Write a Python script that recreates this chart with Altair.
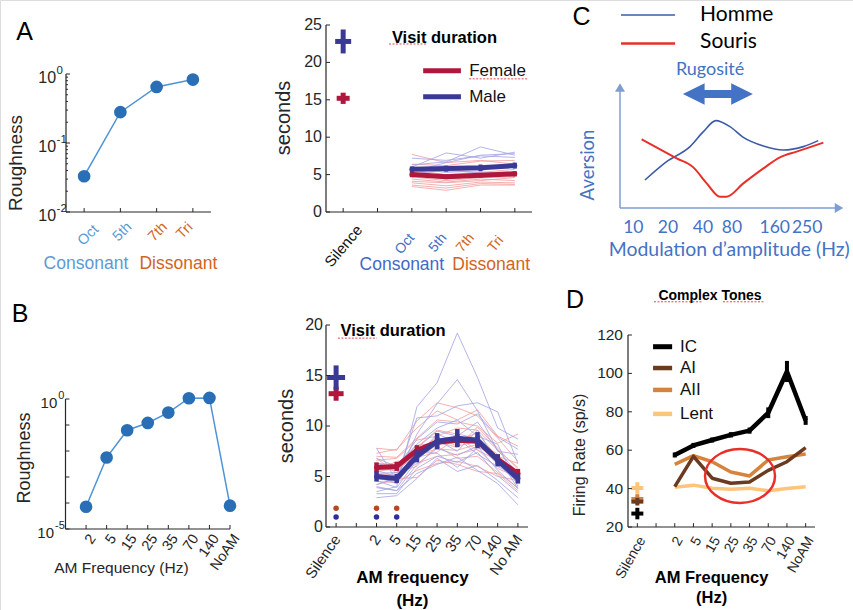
import altair as alt
import pandas as pd

W, H = 853, 610
FONT = "Liberation Sans"
CFONT = "Lato"
AXC = "#262626"

# ---------------- data ----------------
# A (left): roughness of the intervals
a1_intervals = ["Oct", "5th", "7th", "Tri"]
a1_roughness = [0.033, 0.28, 0.65, 0.83]

# A (right): visit duration (s); x slots: Silence=1, Oct=3, 5th=4, 7th=5, Tri=6
a2_silence_female = [15.2, 0.75]
a2_silence_male = [22.8, 1.6]
a2_female_mean = [5.0, 4.7, 4.9, 5.1]
a2_female_err = [0.35, 0.3, 0.3, 0.35]
a2_male_mean = [5.7, 5.8, 5.9, 6.2]
a2_male_err = [0.4, 0.4, 0.45, 0.4]
a2_female_individual = [
    [7.7, 6.6, 6.9, 6.4], [6.4, 6.2, 6.8, 6.9], [6.0, 5.4, 5.8, 6.1],
    [5.6, 5.0, 5.3, 5.7], [5.3, 4.8, 5.2, 5.0], [5.0, 4.4, 4.8, 5.3],
    [4.7, 4.2, 4.6, 4.7], [4.4, 4.0, 4.4, 4.2], [4.1, 3.9, 4.2, 4.6],
    [3.9, 3.5, 4.0, 3.9], [3.6, 3.2, 3.8, 3.7], [3.4, 2.9, 3.6, 3.6],
]
a2_male_individual = [
    [7.2, 6.9, 7.5, 7.3], [6.0, 7.9, 7.2, 8.0], [5.4, 6.6, 7.6, 7.8],
    [6.3, 6.7, 8.7, 7.6], [5.8, 5.3, 5.5, 6.6], [5.1, 5.6, 5.2, 5.4],
    [4.7, 5.0, 4.8, 5.0], [5.9, 5.5, 6.1, 6.3],
]
a2_yticks = [0, 5, 10, 15, 20, 25]

# B (left): roughness per AM frequency
b_freqs = ["2", "5", "15", "25", "35", "70", "140", "NoAM"]
b1_roughness = [7.2e-5, 5.6e-3, 0.063, 0.12, 0.30, 1.07, 1.1, 7.9e-5]

# B (right): visit duration (s); x slots: Silence=1, 2..NoAM = 3..10
b2_ticklabels = ["Silence", "2", "5", "15", "25", "35", "70", "140", "No AM"]
b2_tickslots = [1, 3, 4, 5, 6, 7, 8, 9, 10]
b2_silence_female = [13.2, 0.7]
b2_silence_male = [14.8, 1.2]
b2_female_mean = [5.9, 6.0, 7.6, 8.4, 8.6, 8.5, 6.7, 5.3]
b2_female_err = [0.5, 0.45, 0.5, 0.55, 0.6, 0.55, 0.5, 0.45]
b2_male_mean = [5.0, 4.8, 7.0, 8.5, 8.8, 8.6, 6.6, 4.8]
b2_male_err = [0.5, 0.45, 0.6, 0.8, 0.9, 0.8, 0.6, 0.5]
b2_female_individual = [
    [7.8, 7.6, 10.5, 12.3, 11.8, 11.0, 8.8, 6.5],
    [7.3, 7.7, 9.8, 11.5, 10.6, 11.6, 9.0, 8.0],
    [7.0, 6.9, 8.8, 10.6, 10.4, 10.0, 8.3, 9.2],
    [6.6, 6.8, 8.6, 9.0, 9.8, 9.6, 7.6, 5.9],
    [6.3, 6.2, 8.1, 8.3, 8.6, 9.3, 6.9, 5.4],
    [6.0, 5.9, 7.4, 8.9, 8.0, 8.5, 7.2, 4.8],
    [5.8, 5.6, 7.2, 7.7, 7.6, 8.2, 6.2, 5.2],
    [5.5, 5.8, 6.9, 7.4, 8.9, 7.6, 6.6, 4.3],
    [5.2, 5.1, 6.3, 7.0, 7.2, 7.7, 5.8, 4.9],
    [4.9, 5.4, 6.0, 8.0, 6.8, 7.0, 5.4, 3.9],
    [4.5, 4.4, 5.6, 6.3, 6.5, 6.0, 5.0, 4.6],
    [4.2, 4.8, 4.9, 6.6, 6.2, 5.5, 5.3, 3.6],
    [6.8, 5.3, 7.9, 9.6, 9.2, 8.8, 7.0, 6.3],
    [5.6, 6.5, 6.6, 8.4, 7.9, 9.9, 7.8, 5.7],
]
b2_male_individual = [
    [3.5, 4.0, 11.9, 14.3, 19.2, 14.8, 9.8, 8.7],
    [4.2, 4.8, 9.2, 12.2, 14.6, 11.5, 7.5, 7.2],
    [5.6, 5.0, 10.8, 11.0, 12.0, 12.3, 11.4, 6.3],
    [6.3, 5.8, 8.7, 10.4, 10.2, 11.2, 8.9, 7.7],
    [7.8, 4.6, 7.8, 9.5, 9.0, 10.4, 7.6, 5.3],
    [5.0, 4.3, 7.0, 9.2, 8.4, 8.8, 6.8, 4.9],
    [4.6, 3.9, 6.6, 8.6, 7.5, 9.6, 6.2, 4.4],
    [4.0, 3.6, 6.2, 7.8, 7.1, 8.0, 5.6, 3.8],
    [3.3, 3.3, 5.8, 7.0, 6.4, 7.4, 5.1, 3.4],
    [2.9, 3.1, 4.8, 6.8, 5.5, 6.1, 4.6, 2.9],
    [3.9, 3.6, 5.3, 6.2, 6.9, 5.6, 4.3, 2.2],
    [5.3, 5.4, 6.9, 8.1, 8.8, 7.2, 6.0, 5.0],
    [4.8, 4.5, 7.4, 7.3, 5.9, 7.9, 7.0, 3.8],
    [6.8, 6.0, 8.2, 9.8, 10.6, 9.0, 8.2, 4.0],
]
b2_yticks = [0, 5, 10, 15, 20]
b2_sig_slots = [1, 3, 4]          # Silence, 2 Hz, 5 Hz
b2_sig_female_level = 1.85
b2_sig_male_level = 1.0

# C: schematic aversion curves (arbitrary units)
c_homme_x = [11.2, 20.9, 31.4, 37.4, 43.0, 49.3, 55.3, 64.3, 73.2, 82.2, 88.9]
c_homme_y = [22.4, 37.1, 49.1, 61.1, 69.9, 65.1, 56.5, 49.6, 46.4, 49.1, 53.9]
c_souris_x = [9.7, 25.4, 32.9, 38.9, 44.8, 47.8, 55.3, 64.3, 71.7, 79.2, 91.2]
c_souris_y = [55.0, 39.7, 32.5, 19.7, 9.1, 9.1, 19.7, 31.7, 40.5, 45.1, 52.3]
c_ticklabels = ["10", "20", "40", "80", "160", "250"]
c_tickpos = [6.0, 21.5, 37.2, 50.2, 69.4, 83.9]

# D: firing rate (sp/s); x slots: Silence=1, 2..NoAM = 3..10
d_ticklabels = ["Silence", "2", "5", "15", "25", "35", "70", "140", "NoAM"]
d_ic = [57.5, 62.5, 65.3, 68.0, 70.2, 79.5, 101.0, 75.5]
d_ic_err = [1.3, 1.3, 1.3, 1.4, 1.6, 2.8, 5.5, 2.3]
d_ai = [41.0, 56.8, 45.4, 42.8, 43.4, 49.5, 54.0, 61.3]
d_aii = [52.6, 57.2, 54.0, 48.6, 46.6, 54.9, 56.6, 58.0]
d_lent = [40.7, 41.8, 40.2, 39.7, 40.2, 38.9, 40.0, 41.0]
d_silence_mean = {"Lent": 40.3, "AII": 34.6, "AI": 33.2, "IC": 27.0}
d_silence_err = {"Lent": 3.0, "AII": 2.5, "AI": 2.0, "IC": 3.0}
d_yticks = [20, 40, 60, 80, 100, 120]
d_colors = {"IC": "#000000", "AI": "#6b3a1f", "AII": "#d4843c", "Lent": "#fdc57c"}

# ---------------- helpers ----------------
def lin(dom, rng):
    return alt.Scale(domain=dom, range=rng, nice=False, zero=False)

def logsc(dom, rng):
    return alt.Scale(type="log", domain=dom, range=rng, nice=False)

def qx(f, s):
    return alt.X(f, type="quantitative", scale=s, axis=None)

def qy(f, s):
    return alt.Y(f, type="quantitative", scale=s, axis=None)

def texts(rows, sx, sy, **mk):
    df = pd.DataFrame(rows, columns=["x", "y", "t", "c"])
    return alt.Chart(df).mark_text(**mk).encode(
        x=qx("x", sx), y=qy("y", sy), text="t:N", color=alt.Color("c:N", scale=None))

def segs(rows, sx, sy, **mk):
    df = pd.DataFrame(rows, columns=["x", "x2", "y", "y2"])
    return alt.Chart(df).mark_rule(**mk).encode(
        x=qx("x", sx), x2=alt.X2("x2"), y=qy("y", sy), y2=alt.Y2("y2"))

def long_lines(rows, xs):
    recs = []
    for i, r in enumerate(rows):
        for x, v in zip(xs, r):
            recs.append({"id": i, "x": x, "y": v})
    return pd.DataFrame(recs)

def series_df(xs, ys, errs=None):
    d = pd.DataFrame({"x": xs, "y": ys})
    if errs is not None:
        d["lo"] = [a - e for a, e in zip(ys, errs)]
        d["hi"] = [a + e for a, e in zip(ys, errs)]
    return d

def errbars(df, sx, sy, color, width):
    return alt.Chart(df).mark_rule(color=color, strokeWidth=width).encode(
        x=qx("x", sx), y=qy("lo", sy), y2=alt.Y2("hi"))

def axis_frame(x0, x1, y0, y1, sx, sy):
    # left and bottom axis lines (MATLAB "box off")
    return segs([(x0, x1, y0, y0), (x0, x0, y0, y1)], sx, sy, color=AXC, strokeWidth=1.2)

def inward_ticks(xvals, ybase, ytip, yvals, xbase, xtip, sx, sy, extra=None):
    rows = [(v, v, ybase, ytip) for v in xvals] + [(xbase, xtip, v, v) for v in yvals]
    if extra:
        rows += extra
    return segs(rows, sx, sy, color=AXC, strokeWidth=1)

# ================= Panel A (left) =================
sA1x = lin([0.5, 4.5], [66, 211])
sA1y = logsc([0.01, 1], [212, 74])
dfA1 = series_df([1, 2, 3, 4], a1_roughness)
a1_decades = [0.01, 0.1, 1]
a1_exponents = ["-2", "-1", "0"]
a1_minor = [k * d for d in (0.01, 0.1) for k in range(2, 10)]
panelA1 = alt.layer(
    axis_frame(0.5, 4.5, 0.01, 1, sA1x, sA1y),
    alt.Chart(dfA1).mark_line(color="#4f93d6", strokeWidth=1.5).encode(
        x=qx("x", sA1x), y=qy("y", sA1y)),
    alt.Chart(dfA1).mark_circle(size=160, color="#2a6fb5", opacity=1).encode(
        x=qx("x", sA1x), y=qy("y", sA1y)),
    inward_ticks([1, 2, 3, 4], 0.01, 0.0114, a1_decades, 0.5, 0.61, sA1x, sA1y,
                 extra=[(0.5, 0.555, v, v) for v in a1_minor]),
    texts([(0.225, v * 0.875, "10", AXC) for v in a1_decades], sA1x, sA1y,
          font=FONT, fontSize=16, align="right", baseline="middle"),
    texts([(0.24, v * 1.105, e, AXC) for v, e in zip(a1_decades, a1_exponents)], sA1x, sA1y,
          font=FONT, fontSize=11.5, align="left", baseline="middle"),
    texts([(1.12, 0.00457, a1_intervals[0], "#5b9bd5"), (2.06, 0.00513, a1_intervals[1], "#5b9bd5"),
           (3.04, 0.00513, a1_intervals[2], "#d2641e"), (3.78, 0.00531, a1_intervals[3], "#d2641e")],
          sA1x, sA1y, font=FONT, fontSize=14.5, angle=315, align="center", baseline="middle"),
    texts([(1.05, 0.00176, "Consonant", "#5b9bd5"), (3.60, 0.00176, "Dissonant", "#d2641e")],
          sA1x, sA1y, font=FONT, fontSize=17.5, align="center", baseline="middle"),
    texts([(-0.645, 4.07, "A", "#000000")], sA1x, sA1y, font=FONT, fontSize=25,
          align="center", baseline="middle"),
    texts([(-0.88, 0.0513, "Roughness", AXC)], sA1x, sA1y, font=FONT, fontSize=19,
          angle=270, align="center", baseline="middle"),
)

# ================= Panel A (right) =================
sA2x = lin([0.5, 6.5], [326, 532])
sA2y = lin([0, 25], [212, 25])
FEM, MAL = "#b0173d", "#3b3996"
FEM_L, MAL_L = "#f29c9c", "#a3a3e3"
a2_slots = [3, 4, 5, 6]
dfA2f = series_df(a2_slots, a2_female_mean, a2_female_err)
dfA2m = series_df(a2_slots, a2_male_mean, a2_male_err)
dfA2sil_f = series_df([1], [a2_silence_female[0]], [a2_silence_female[1]])
dfA2sil_m = series_df([1], [a2_silence_male[0]], [a2_silence_male[1]])
panelA2 = alt.layer(
    axis_frame(0.5, 6.5, 0, 25, sA2x, sA2y),
    alt.Chart(long_lines(a2_female_individual, a2_slots)).mark_line(
        color=FEM_L, strokeWidth=1, opacity=0.8).encode(
        x=qx("x", sA2x), y=qy("y", sA2y), detail="id:N"),
    alt.Chart(long_lines(a2_male_individual, a2_slots)).mark_line(
        color=MAL_L, strokeWidth=1, opacity=0.8).encode(
        x=qx("x", sA2x), y=qy("y", sA2y), detail="id:N"),
    alt.Chart(dfA2f).mark_line(color=FEM, strokeWidth=5, strokeCap="round").encode(
        x=qx("x", sA2x), y=qy("y", sA2y)),
    errbars(dfA2f, sA2x, sA2y, FEM, 4),
    alt.Chart(dfA2m).mark_line(color=MAL, strokeWidth=5, strokeCap="round").encode(
        x=qx("x", sA2x), y=qy("y", sA2y)),
    errbars(dfA2m, sA2x, sA2y, MAL, 4),
    errbars(dfA2sil_f, sA2x, sA2y, FEM, 5),
    alt.Chart(dfA2sil_f).mark_tick(orient="horizontal", size=13, thickness=5, color=FEM, opacity=1).encode(
        x=qx("x", sA2x), y=qy("y", sA2y)),
    errbars(dfA2sil_m, sA2x, sA2y, MAL, 5),
    alt.Chart(dfA2sil_m).mark_tick(orient="horizontal", size=16, thickness=5, color=MAL, opacity=1).encode(
        x=qx("x", sA2x), y=qy("y", sA2y)),
    inward_ticks([1, 2, 3, 4, 5, 6], 0, 0.53, a2_yticks, 0.5, 0.617, sA2x, sA2y),
    texts([(0.383, v, str(v), AXC) for v in a2_yticks], sA2x, sA2y, font=FONT, fontSize=16,
          align="right", baseline="middle"),
    texts([(-0.72, 12.57, "seconds", AXC)], sA2x, sA2y, font=FONT, fontSize=20, angle=270,
          align="center", baseline="middle"),
    segs([(3.33, 4.43, 18.9, 18.9)], sA2x, sA2y, color=FEM, strokeWidth=5),
    segs([(3.33, 4.43, 15.4, 15.4)], sA2x, sA2y, color=MAL, strokeWidth=5),
    segs([(2.335, 3.44, 22.46, 22.46), (4.67, 6.38, 17.8, 17.8)], sA2x, sA2y,
         color="#e04848", strokeWidth=1, strokeDash=[2, 1.5]),
    texts([(4.67, 18.9, "Female", "#111111"), (4.67, 15.4, "Male", "#111111")], sA2x, sA2y,
          font=FONT, fontSize=17, align="left", baseline="middle"),
    texts([(3.95, 23.3, "Visit duration", "#000000")], sA2x, sA2y, font=FONT, fontSize=16.5,
          fontWeight="bold", align="center", baseline="middle"),
    texts([(1.01, -4.55, "Silence", "#111111")], sA2x, sA2y, font=FONT, fontSize=15,
          angle=310, align="center", baseline="middle"),
    texts([(2.80, -4.28, "Oct", "#4472c4"), (3.76, -4.14, "5th", "#4472c4"),
           (4.56, -4.14, "7th", "#d2641e"), (5.45, -4.28, "Tri", "#d2641e")], sA2x, sA2y,
          font=FONT, fontSize=14, angle=310, align="center", baseline="middle"),
    texts([(2.71, -7.09, "Consonant", "#4468c4"), (5.31, -7.09, "Dissonant", "#d2641e")],
          sA2x, sA2y, font=FONT, fontSize=17.5, align="center", baseline="middle"),
)

# ================= Panel C (schematic) =================
sCx = lin([0, 100], [620, 843])
sCy = lin([0, 100], [208, 83])
CBLUE = "#4472c4"
AXBLUE = "#7f9dd3"
dfCh = pd.DataFrame({"x": c_homme_x, "y": c_homme_y})
dfCs = pd.DataFrame({"x": c_souris_x, "y": c_souris_y})
UP = "M 0 -0.85 L 1 0.85 L -1 0.85 Z"
RIGHT = "M 0.85 0 L -0.85 -1 L -0.85 1 Z"
DOUBLE = ("M -1 0 L -0.38 -0.31 L -0.38 -0.115 L 0.38 -0.115 L 0.38 -0.31 L 1 0 "
          "L 0.38 0.31 L 0.38 0.115 L -0.38 0.115 L -0.38 0.31 Z")
panelC = alt.layer(
    segs([(0, 0, 0, 96.5), (0, 98.3, 0, 0)], sCx, sCy, color=AXBLUE, strokeWidth=1.5),
    alt.Chart(pd.DataFrame({"x": [0], "y": [96.4]})).mark_point(
        shape=UP, size=100, filled=True, color=AXBLUE, opacity=1, strokeWidth=0).encode(
        x=qx("x", sCx), y=qy("y", sCy)),
    alt.Chart(pd.DataFrame({"x": [98.2], "y": [0]})).mark_point(
        shape=RIGHT, size=100, filled=True, color=AXBLUE, opacity=1, strokeWidth=0).encode(
        x=qx("x", sCx), y=qy("y", sCy)),
    alt.Chart(dfCh).mark_line(color="#3a5ca8", strokeWidth=1.6, interpolate="monotone").encode(
        x=qx("x", sCx), y=qy("y", sCy)),
    alt.Chart(dfCs).mark_line(color="#e8302a", strokeWidth=2, interpolate="monotone").encode(
        x=qx("x", sCx), y=qy("y", sCy)),
    alt.Chart(pd.DataFrame({"x": [43.9], "y": [91.2]})).mark_point(
        shape=DOUBLE, size=4900, filled=True, color=CBLUE, opacity=1, strokeWidth=0).encode(
        x=qx("x", sCx), y=qy("y", sCy)),
    segs([(0.45, 24.7, 154.4, 154.4)], sCx, sCy, color="#3a5ca8", strokeWidth=1.5),
    segs([(0.45, 24.7, 131.7, 131.7)], sCx, sCy, color="#e8302a", strokeWidth=2.5),
    texts([(35.9, 154.4, "Homme", "#000000"), (35.9, 133.0, "Souris", "#000000")], sCx, sCy,
          font=CFONT, fontSize=21, align="left", baseline="middle"),
    texts([(-17.3, 153.0, "C", "#000000")], sCx, sCy, font=FONT, fontSize=25,
          align="center", baseline="middle"),
    texts([(40.4, 110.4, "Rugosité", CBLUE)], sCx, sCy, font=CFONT, fontSize=18,
          align="center", baseline="middle"),
    texts([(-14.3, 34.4, "Aversion", CBLUE)], sCx, sCy, font=CFONT, fontSize=18.5,
          angle=270, align="center", baseline="middle"),
    texts([(p, -16, t, CBLUE) for p, t in zip(c_tickpos, c_ticklabels)], sCx, sCy,
          font=CFONT, fontSize=17.5, align="center", baseline="middle"),
    texts([(49.0, -33.6, "Modulation d’amplitude (Hz)", CBLUE)], sCx, sCy, font=CFONT,
          fontSize=19.4, align="center", baseline="middle"),
)

# ================= Panel B (left) =================
sB1x = lin([0, 8], [65.5, 230])
sB1y = logsc([1e-5, 1], [529, 399])
b1_slots = list(range(1, 9))
dfB1 = series_df(b1_slots, b1_roughness)
b1_decades = [1e-5, 1e-4, 1e-3, 1e-2, 1e-1, 1]
panelB1 = alt.layer(
    axis_frame(0, 8, 1e-5, 1, sB1x, sB1y),
    alt.Chart(dfB1).mark_line(color="#4f93d6", strokeWidth=1.5).encode(
        x=qx("x", sB1x), y=qy("y", sB1y)),
    alt.Chart(dfB1).mark_circle(size=160, color="#2a6fb5", opacity=1).encode(
        x=qx("x", sB1x), y=qy("y", sB1y)),
    inward_ticks(b1_slots, 1e-5, 1.43e-5, b1_decades, 0, 0.19, sB1x, sB1y),
    texts([(-0.40, 0.702, "10", AXC), (-0.56, 7.02e-6, "10", AXC)], sB1x, sB1y,
          font=FONT, fontSize=15, align="right", baseline="middle"),
    texts([(-0.35, 1.304, "0", AXC), (-0.51, 1.304e-5, "-5", AXC)], sB1x, sB1y,
          font=FONT, fontSize=11, align="left", baseline="middle"),
    texts([(s + 0.34, 5.38e-6, t, AXC) for s, t in zip(b1_slots, b_freqs)], sB1x, sB1y,
          font=FONT, fontSize=14.5, angle=305, align="right", baseline="middle"),
    texts([(-2.21, 1862, "B", "#000000")], sB1x, sB1y, font=FONT, fontSize=25,
          align="center", baseline="middle"),
    texts([(-1.97, 0.00537, "Roughness", AXC)], sB1x, sB1y, font=FONT, fontSize=18,
          angle=270, align="center", baseline="middle"),
    texts([(2.72, 3.16e-7, "AM Frequency (Hz)", AXC)], sB1x, sB1y, font=FONT, fontSize=15.5,
          align="center", baseline="middle"),
)

# ================= Panel B (right) =================
sB2x = lin([0.5, 10.5], [326, 528])
sB2y = lin([0, 20], [527, 325])
b_slots = list(range(3, 11))
dfB2f = series_df(b_slots, b2_female_mean, b2_female_err)
dfB2m = series_df(b_slots, b2_male_mean, b2_male_err)
dfB2sil_f = series_df([1], [b2_silence_female[0]], [b2_silence_female[1]])
dfB2sil_m = series_df([1], [b2_silence_male[0]], [b2_silence_male[1]])
panelB2 = alt.layer(
    axis_frame(0.5, 10.5, 0, 20, sB2x, sB2y),
    alt.Chart(long_lines(b2_female_individual, b_slots)).mark_line(
        color=FEM_L, strokeWidth=1, opacity=0.8).encode(
        x=qx("x", sB2x), y=qy("y", sB2y), detail="id:N"),
    alt.Chart(long_lines(b2_male_individual, b_slots)).mark_line(
        color=MAL_L, strokeWidth=1, opacity=0.8).encode(
        x=qx("x", sB2x), y=qy("y", sB2y), detail="id:N"),
    alt.Chart(dfB2f).mark_line(color=FEM, strokeWidth=5, strokeCap="round", strokeJoin="round").encode(
        x=qx("x", sB2x), y=qy("y", sB2y)),
    errbars(dfB2f, sB2x, sB2y, FEM, 4.5),
    alt.Chart(dfB2m).mark_line(color=MAL, strokeWidth=5, strokeCap="round", strokeJoin="round").encode(
        x=qx("x", sB2x), y=qy("y", sB2y)),
    errbars(dfB2m, sB2x, sB2y, MAL, 4.5),
    errbars(dfB2sil_f, sB2x, sB2y, FEM, 5),
    alt.Chart(dfB2sil_f).mark_tick(orient="horizontal", size=15, thickness=5, color=FEM, opacity=1).encode(
        x=qx("x", sB2x), y=qy("y", sB2y)),
    errbars(dfB2sil_m, sB2x, sB2y, MAL, 5),
    alt.Chart(dfB2sil_m).mark_tick(orient="horizontal", size=18, thickness=5, color=MAL, opacity=1).encode(
        x=qx("x", sB2x), y=qy("y", sB2y)),
    alt.Chart(pd.DataFrame({"x": b2_sig_slots, "y": [b2_sig_female_level] * 3})).mark_circle(
        size=30, color="#b8471f", opacity=1).encode(x=qx("x", sB2x), y=qy("y", sB2y)),
    alt.Chart(pd.DataFrame({"x": b2_sig_slots, "y": [b2_sig_male_level] * 3})).mark_circle(
        size=30, color="#2e2e9e", opacity=1).encode(x=qx("x", sB2x), y=qy("y", sB2y)),
    inward_ticks(list(range(1, 11)), 0, 0.4, b2_yticks, 0.5, 0.7, sB2x, sB2y),
    texts([(0.35, v, str(v), AXC) for v in b2_yticks], sB2x, sB2y, font=FONT, fontSize=16,
          align="right", baseline="middle"),
    texts([(-1.43, 10.0, "seconds", AXC)], sB2x, sB2y, font=FONT, fontSize=20, angle=270,
          align="center", baseline="middle"),
    texts([(s + 0.05, -0.94, t, AXC) for s, t in zip(b2_tickslots, b2_ticklabels)], sB2x, sB2y,
          font=FONT, fontSize=15, angle=305, align="right", baseline="middle"),
    segs([(1.09, 3.02, 18.7, 18.7)], sB2x, sB2y, color="#e04848", strokeWidth=1, strokeDash=[2, 1.5]),
    texts([(3.82, 19.44, "Visit duration", "#000000")], sB2x, sB2y, font=FONT, fontSize=16.5,
          fontWeight="bold", align="center", baseline="middle"),
    texts([(4.78, -5.05, "AM frequency", "#000000"), (4.78, -7.33, "(Hz)", "#000000")], sB2x, sB2y,
          font=FONT, fontSize=17, fontWeight="bold", align="center", baseline="middle"),
)

# ================= Panel D =================
sDx = lin([0.5, 10.5], [628, 815])
sDy = lin([20, 120], [527, 335])
dfIC = series_df(b_slots, d_ic, d_ic_err)
ELLIPSE = "M -1 0 A 1 0.77 0 1 1 1 0 A 1 0.77 0 1 1 -1 0 Z"
d_layers = [axis_frame(0.5, 10.5, 20, 120, sDx, sDy)]
for name, vals in [("Lent", d_lent), ("AII", d_aii), ("AI", d_ai)]:
    d_layers.append(alt.Chart(series_df(b_slots, vals)).mark_line(
        color=d_colors[name], strokeWidth=3.5, strokeJoin="round").encode(
        x=qx("x", sDx), y=qy("y", sDy)))
d_layers += [
    alt.Chart(dfIC).mark_line(color=d_colors["IC"], strokeWidth=4.5, strokeJoin="round").encode(
        x=qx("x", sDx), y=qy("y", sDy)),
    errbars(dfIC, sDx, sDy, "#000000", 4),
]
for name in ["Lent", "AII", "AI", "IC"]:
    dsil = series_df([1], [d_silence_mean[name]], [d_silence_err[name]])
    d_layers.append(errbars(dsil, sDx, sDy, d_colors[name], 4))
    d_layers.append(alt.Chart(dsil).mark_tick(orient="horizontal", size=12, thickness=4,
                                              color=d_colors[name], opacity=1).encode(
        x=qx("x", sDx), y=qy("y", sDy)))
legend_rows = [("IC", 113.9), ("AI", 102.8), ("AII", 91.4), ("Lent", 78.9)]
for name, yy in legend_rows:
    d_layers.append(segs([(1.84, 2.86, yy, yy)], sDx, sDy, color=d_colors[name],
                         strokeWidth=5 if name == "IC" else 4.5))
d_layers += [
    texts([(3.28, yy, name, "#111111") for name, yy in legend_rows], sDx, sDy, font=FONT,
          fontSize=17, align="left", baseline="middle"),
    alt.Chart(pd.DataFrame({"x": [6.49], "y": [46.6]})).mark_point(
        shape=ELLIPSE, size=4900, filled=False, color="#e8302a", strokeWidth=2.5, opacity=1).encode(
        x=qx("x", sDx), y=qy("y", sDy)),
    inward_ticks(list(range(1, 11)), 20, 22, d_yticks, 0.5, 0.71, sDx, sDy),
    texts([(0.233, v, str(v), AXC) for v in d_yticks], sDx, sDy, font=FONT, fontSize=15.5,
          align="right", baseline="middle"),
    texts([(s + 0.27, 14.27, t, AXC) for s, t in zip(b2_tickslots, d_ticklabels)], sDx, sDy,
          font=FONT, fontSize=14, angle=300, align="right", baseline="middle"),
    segs([(1.89, 4.46, 137.3, 137.3), (5.58, 7.83, 137.3, 137.3)], sDx, sDy,
         color="#e04848", strokeWidth=1, strokeDash=[2, 1.5]),
    texts([(4.885, 140.3, "Complex Tones", "#000000")], sDx, sDy, font=FONT, fontSize=14,
          fontWeight="bold", align="center", baseline="middle"),
    texts([(-2.33, 138.2, "D", "#000000")], sDx, sDy, font=FONT, fontSize=25,
          align="center", baseline="middle"),
    texts([(-2.07, 57.5, "Firing Rate (sp/s)", AXC)], sDx, sDy, font=FONT, fontSize=16,
          angle=270, align="center", baseline="middle"),
    texts([(4.97, -6.6, "AM Frequency", "#000000"), (4.97, -17.0, "(Hz)", "#000000")], sDx, sDy,
          font=FONT, fontSize=16.5, fontWeight="bold", align="center", baseline="middle"),
]
panelD = alt.layer(*d_layers)

chart = alt.layer(panelA1, panelA2, panelC, panelB1, panelB2, panelD).resolve_scale(
    x="independent", y="independent"
).properties(
    width=W, height=H, padding=0, autosize=alt.AutoSizeParams(type="none")
).configure_view(stroke=None).configure(background="white")

chart.save("out.html", embed_options={"renderer": "svg", "actions": False})
